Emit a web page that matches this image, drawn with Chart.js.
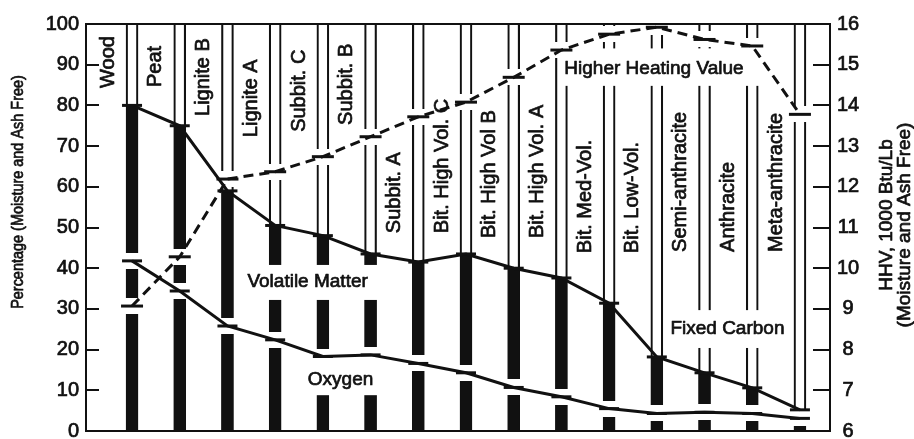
<!DOCTYPE html>
<html>
<head>
<meta charset="utf-8">
<script src="https://cdn.jsdelivr.net/npm/chart.js@4/dist/chart.umd.min.js"></script>
<style>
  html, body { margin: 0; padding: 0; background: #fff; }
  #wrap { width: 914px; height: 439px; }
</style>
</head>
<body>
<div id="wrap"><canvas id="coalChart" width="914" height="439"></canvas></div>
<script>
// coal rank data (moisture and ash free)
const ranks = ['Wood', 'Peat', 'Lignite B', 'Lignite A', 'Subbit. C', 'Subbit. B', 'Subbit. A',
  'Bit. High Vol. C', 'Bit. High Vol B', 'Bit. High Vol. A', 'Bit. Med-Vol.', 'Bit. Low-Vol.',
  'Semi-anthracite', 'Anthracite', 'Meta-anthracite'];
const volatileMatter = [80, 75, 59, 50.5, 48, 43.5, 41.5, 43.5, 40, 37.6, 31.4, 18.2, 14.3, 10.6, 5.2];
const oxygen = [41.8, 34.4, 25.8, 22.4, 18.3, 18.7, 16.6, 14.3, 10.7, 8.4, 5.5, 4.3, 4.6, 4.3, 3.1];
const hhv = [9.07, 10.28, 12.19, 12.37, 12.74, 13.23, 13.72, 14.08, 14.69, 15.36, 15.75, 15.92, 15.62, 15.46, 13.78];
const pctTicks = [0, 10, 20, 30, 40, 50, 60, 70, 80, 90, 100];
const hhvTicks = [6, 7, 8, 9, 10, 11, 12, 13, 14, 15, 16];

// where the rank names start (in % units, text reads upward)
const rankLabelBase = [84.3, 84.5, 77.4, 72.2, 73.5, 75.2, 48.6, 48.6, 47.4, 47.4, 43.7, 43.7, 44.0, 44.0, 44.0];

// curve names with white patches behind them (x in rank units, y in %)
const notes = [
  { text: 'Volatile Matter', x: 4.68, y: 36.7, box: [3.26, 6.16, 40.8, 32.2] },
  { text: 'Oxygen', x: 5.37, y: 12.6, box: [4.48, 6.2, 17.0, 8.8] },
  { text: 'Fixed Carbon', x: 13.48, y: 25.2, box: [12.15, 14.8, 29.7, 20.4] },
  { text: 'Higher Heating Value', x: 11.94, y: 89.1, box: [9.93, 14.2, 94.0, 84.8] }
];

const FONT = '"Liberation Sans", Arial, Helvetica, sans-serif';
const INK = '#111';
const HEAVY = 0.7; // extra stroke so text looks as dark as the printed figure

const xs = ranks.map((r, i) => i + 1);
const toPts = arr => arr.map((v, i) => ({ x: xs[i], y: v }));

function whiteBlock(w, h) {
  let c = document.createElement('canvas');
  c.width = w;
  c.height = h;
  let g = c.getContext('2d');
  g.fillStyle = '#fff';
  g.fillRect(0, 0, w, h);
  return c;
}
const halo = whiteBlock(16, 16);

function fitAxis(width) {
  return s => {
    s.width = width;
    s.paddingTop = 0;
    s.paddingBottom = 0;
  };
}

function inkText(ctx, text, x, y) {
  ctx.fillText(text, x, y);
  ctx.strokeText(text, x, y);
}

const decor = {
  id: 'decor',
  afterDatasetDraw(chart, args) {
    if (chart.data.datasets[args.index].label !== 'oxyHalo') return;
    const ctx = chart.ctx, sx = chart.scales.x, sy = chart.scales.y;
    ctx.save();
    ctx.fillStyle = '#fff';
    notes.forEach(n => {
      let x0 = sx.getPixelForValue(n.box[0]), x1 = sx.getPixelForValue(n.box[1]);
      let y0 = sy.getPixelForValue(n.box[2]), y1 = sy.getPixelForValue(n.box[3]);
      ctx.fillRect(x0, y0, x1 - x0, y1 - y0);
    });
    ctx.restore();
  },
  afterDatasetsDraw(chart) {
    const ctx = chart.ctx, sx = chart.scales.x, sy = chart.scales.y, sh = chart.scales.yh;
    const area = chart.chartArea;
    ctx.save();
    ctx.strokeStyle = INK;
    ctx.fillStyle = INK;

    // top frame line
    ctx.lineWidth = 2;
    ctx.beginPath();
    ctx.moveTo(area.left - 1, area.top);
    ctx.lineTo(area.right + 1, area.top);
    ctx.stroke();

    // inward tick marks
    pctTicks.forEach(v => {
      let y = Math.round(sy.getPixelForValue(v));
      ctx.beginPath();
      ctx.moveTo(area.left, y);
      ctx.lineTo(area.left + 13, y);
      ctx.stroke();
    });
    hhvTicks.forEach(v => {
      let y = Math.round(sh.getPixelForValue(v));
      ctx.beginPath();
      ctx.moveTo(area.right - 17, y);
      ctx.lineTo(area.right, y);
      ctx.stroke();
    });

    ctx.lineWidth = HEAVY;
    ctx.lineJoin = 'round';

    // rank names, rotated
    ctx.font = '20px ' + FONT;
    ctx.textAlign = 'left';
    ctx.textBaseline = 'middle';
    ranks.forEach((r, i) => {
      ctx.save();
      ctx.translate(sx.getPixelForValue(xs[i] - 0.5), sy.getPixelForValue(rankLabelBase[i]));
      ctx.rotate(-Math.PI / 2);
      inkText(ctx, r, 0, 0);
      ctx.restore();
    });

    // curve names
    ctx.font = '19px ' + FONT;
    ctx.textAlign = 'center';
    notes.forEach(n => {
      inkText(ctx, n.text, sx.getPixelForValue(n.x), sy.getPixelForValue(n.y));
    });

    // axis titles
    ctx.save();
    ctx.font = '17px ' + FONT;
    ctx.translate(18, 192);
    ctx.rotate(-Math.PI / 2);
    ctx.scale(0.85, 1);
    inkText(ctx, 'Percentage (Moisture and Ash Free)', 0, 0);
    ctx.restore();
    ctx.save();
    ctx.translate(887, 215);
    ctx.rotate(-Math.PI / 2);
    inkText(ctx, 'HHV, 1000 Btu/Lb', 0, 0);
    ctx.restore();
    ctx.save();
    ctx.translate(905, 225);
    ctx.rotate(-Math.PI / 2);
    inkText(ctx, '(Moisture and Ash Free)', 0, 0);
    ctx.restore();

    ctx.restore();
  }
};

const lineStyle = {
  type: 'line',
  borderColor: INK,
  borderWidth: 3,
  pointStyle: 'line',
  pointRadius: 10,
  pointBorderWidth: 3,
  pointBorderColor: INK,
  tension: 0
};

const tickFont = { family: FONT, size: 20 };

let coalChart = new Chart(document.getElementById('coalChart'), {
  type: 'bar',
  data: {
    datasets: [
      Object.assign({}, lineStyle, { label: 'HHV', data: toPts(hhv), yAxisID: 'yh', borderDash: [10, 6], pointRadius: 11, order: 1 }),
      Object.assign({}, lineStyle, { label: 'Volatile Matter', data: toPts(volatileMatter), yAxisID: 'y', order: 2 }),
      Object.assign({}, lineStyle, { label: 'Oxygen', data: toPts(oxygen), yAxisID: 'y', order: 2 }),
      { type: 'line', label: 'oxyHalo', data: toPts(oxygen), yAxisID: 'y', showLine: false, pointStyle: halo, order: 7 },
      { type: 'line', label: 'hhvHalo', data: toPts(hhv), yAxisID: 'yh', showLine: false, pointStyle: halo, order: 8 },
      {
        type: 'bar', label: 'column', data: xs.map(x => ({ x: x, y: [0, 100] })), yAxisID: 'y',
        backgroundColor: 'rgba(0,0,0,0)', borderColor: INK,
        borderWidth: { left: 1.5, right: 1.5, top: 0, bottom: 0 }, borderSkipped: false,
        barThickness: 12, grouped: false, order: 10
      },
      {
        type: 'bar', label: 'rank bar', data: toPts(volatileMatter), yAxisID: 'y',
        backgroundColor: INK, barThickness: 11, grouped: false, order: 9
      }
    ]
  },
  options: {
    responsive: false,
    animation: false,
    events: [],
    devicePixelRatio: 1,
    layout: { autoPadding: false, padding: { top: 24, left: 0, right: 0, bottom: 0 } },
    plugins: { legend: { display: false }, tooltip: { enabled: false } },
    scales: {
      x: {
        type: 'linear', min: 0.035, max: 15.63, offset: false,
        ticks: { display: false },
        grid: { display: false, drawTicks: false },
        border: { display: true, color: INK, width: 2 },
        afterFit: s => { s.height = 8; }
      },
      y: {
        position: 'left', min: 0, max: 100,
        ticks: { stepSize: 10, autoSkip: false, color: INK, padding: 7, font: tickFont,
          textStrokeColor: INK, textStrokeWidth: HEAVY },
        grid: { display: false, drawTicks: false },
        border: { display: true, color: INK, width: 2 },
        afterFit: fitAxis(86)
      },
      yh: {
        position: 'right', min: 6, max: 16,
        ticks: { stepSize: 1, autoSkip: false, color: INK, padding: 7, crossAlign: 'center', font: tickFont,
          textStrokeColor: INK, textStrokeWidth: HEAVY },
        grid: { display: false, drawTicks: false },
        border: { display: true, color: INK, width: 2 },
        afterFit: fitAxis(84)
      }
    }
  },
  plugins: [decor]
});
</script>
</body>
</html>
